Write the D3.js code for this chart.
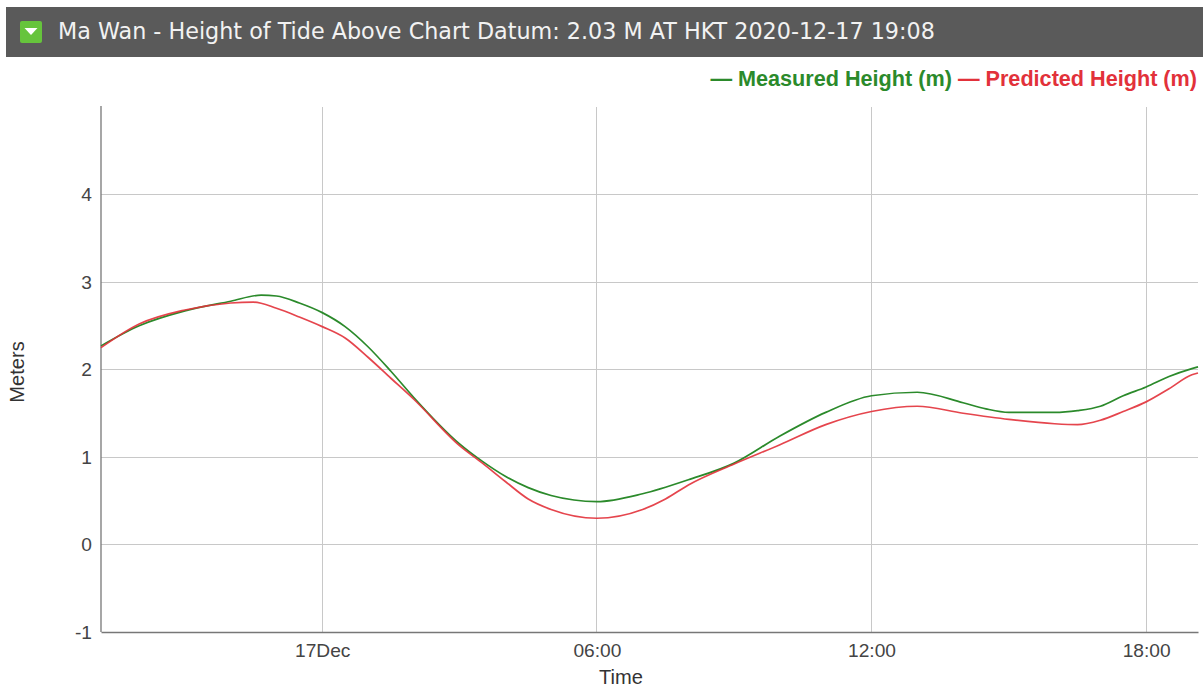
<!DOCTYPE html>
<html><head><meta charset="utf-8">
<script src="https://cdn.jsdelivr.net/npm/d3@7"></script>
<style>body{margin:0;background:#fff;}svg{display:block;}</style>
</head><body>
<svg id="c" width="1203" height="696"></svg>
<script>
const titleText = "Ma Wan - Height of Tide Above Chart Datum: 2.03 M AT HKT 2020-12-17 19:08";
const seriesNames = ["Measured Height (m)", "Predicted Height (m)"];
const yTicks = [-1, 0, 1, 2, 3, 4];
const yLabel = "Meters";
const xLabel = "Time";
const timeStart = "2020-12-16 19:10";
const timeEnd = "2020-12-17 19:08";

const measuredTimes = ["2020-12-16 19:10","2020-12-16 20:00","2020-12-16 21:00","2020-12-16 22:00","2020-12-16 22:40","2020-12-16 23:00","2020-12-16 23:30",
 "2020-12-17 00:00","2020-12-17 00:30","2020-12-17 01:00","2020-12-17 01:30","2020-12-17 02:00","2020-12-17 03:00","2020-12-17 03:30","2020-12-17 04:00","2020-12-17 04:30","2020-12-17 05:00","2020-12-17 06:00","2020-12-17 07:00","2020-12-17 08:00","2020-12-17 09:00","2020-12-17 10:00","2020-12-17 11:00","2020-12-17 12:00","2020-12-17 13:00","2020-12-17 14:00","2020-12-17 14:30","2020-12-17 15:00","2020-12-17 16:00","2020-12-17 16:30","2020-12-17 17:00","2020-12-17 17:30","2020-12-17 18:00","2020-12-17 18:30","2020-12-17 19:00","2020-12-17 19:08"];
const measuredValues = [2.27,2.50,2.67,2.78,2.85,2.84,2.76,
 2.65,2.49,2.26,1.98,1.68,1.15,0.95,0.78,0.65,0.56,0.49,0.58,0.74,0.93,1.24,1.51,1.70,1.74,1.62,1.55,1.51,1.51,1.53,1.58,1.70,1.80,1.92,2.01,2.03];

const predictedTimes = ["2020-12-16 19:10","2020-12-16 20:00","2020-12-16 21:00","2020-12-16 22:00","2020-12-16 22:30","2020-12-16 23:00","2020-12-16 23:30",
 "2020-12-17 00:00","2020-12-17 00:30","2020-12-17 01:00","2020-12-17 01:30","2020-12-17 02:00","2020-12-17 03:00","2020-12-17 03:30","2020-12-17 04:00","2020-12-17 04:30","2020-12-17 05:00","2020-12-17 06:00","2020-12-17 07:00","2020-12-17 07:30","2020-12-17 08:00","2020-12-17 09:00","2020-12-17 10:00","2020-12-17 11:00","2020-12-17 12:00","2020-12-17 13:00","2020-12-17 14:00","2020-12-17 15:00","2020-12-17 16:00","2020-12-17 16:30","2020-12-17 17:00","2020-12-17 17:30","2020-12-17 18:00","2020-12-17 18:30","2020-12-17 19:00","2020-12-17 19:08"];
const predictedValues = [2.25,2.52,2.68,2.76,2.77,2.70,2.60,
 2.49,2.36,2.14,1.90,1.66,1.13,0.93,0.72,0.52,0.40,0.30,0.40,0.52,0.68,0.92,1.14,1.37,1.52,1.58,1.50,1.43,1.38,1.37,1.42,1.52,1.63,1.78,1.94,1.96];

const parse = d3.timeParse("%Y-%m-%d %H:%M");
const svg = d3.select("#c");
const W = 1203, H = 696;
const m = {left:101, right:1198, top:107, bottom:632};
const SANS = "'Liberation Sans', Arial, sans-serif";

function fitFont(sel, base, target) {
  sel.style("font-size", base + "px");
  const w = sel.node().getComputedTextLength();
  return base * target / w;
}

// header
svg.append("rect").attr("x",6).attr("y",7).attr("width",W-6).attr("height",50).attr("fill","#5a5a5a");
svg.append("rect").attr("x",20).attr("y",21).attr("width",22).attr("height",22).attr("rx",2).attr("fill","#66c43c");
svg.append("path").attr("d","M24.5,28 L37.5,28 L31,35 Z").attr("fill","#fff");
const tt = svg.append("text").attr("x",58).attr("y",39).attr("fill","#f2f2f2")
  .style("font-family","'DejaVu Sans', Verdana, sans-serif").text(titleText);
tt.style("font-size", fitFont(tt, 16, 877).toFixed(2)+"px");

const x = d3.scaleTime().domain([parse(timeStart), parse(timeEnd)]).range([m.left, m.right]);
const y = d3.scaleLinear().domain([-1, 5]).range([m.bottom, m.top]);

// grid
const g = svg.append("g");
g.selectAll(".hg").data(yTicks.filter(v=>v!==-1)).enter().append("line")
  .attr("x1",m.left).attr("x2",m.right).attr("y1",d=>y(d)).attr("y2",d=>y(d))
  .attr("stroke","#c8c8c8").attr("stroke-width",1).attr("shape-rendering","crispEdges");
const xt = x.ticks(d3.timeHour.every(6));
g.selectAll(".vg").data(xt).enter().append("line")
  .attr("x1",d=>x(d)).attr("x2",d=>x(d)).attr("y1",m.top).attr("y2",m.bottom)
  .attr("stroke","#c8c8c8").attr("stroke-width",1).attr("shape-rendering","crispEdges");

const probe = svg.append("text").style("font-family",SANS).text("06:00");
const tickSize = fitFont(probe, 16, 48);
probe.remove();
const probe2 = svg.append("text").style("font-family",SANS).text(xLabel);
const titleSize = fitFont(probe2, 16, 44);
probe2.remove();

// axes
const fmt = d => (d.getHours()===0 ? d3.timeFormat("%d%b")(d) : d3.timeFormat("%H:%M")(d));
const xa = svg.append("g").attr("transform",`translate(0,${m.bottom})`)
  .call(d3.axisBottom(x).tickValues(xt).tickFormat(fmt).tickSize(0).tickPadding(11));
const ya = svg.append("g").attr("transform",`translate(${m.left},0)`)
  .call(d3.axisLeft(y).tickValues(yTicks).tickFormat(d=>String(d)).tickSize(0).tickPadding(9));
[xa,ya].forEach(a=>{
  a.attr("font-size", null).attr("font-family", null);
  a.select(".domain").attr("stroke","#777").attr("stroke-width",1.3);
  a.selectAll("text").attr("fill","#444").style("font-family",SANS).style("font-size",tickSize.toFixed(2)+"px");
});
ya.select(".domain").attr("d",`M0,${m.top-1}V${m.bottom}`);

svg.append("text").attr("transform","translate(24,372) rotate(-90)").attr("text-anchor","middle")
  .attr("fill","#333").style("font-family",SANS).style("font-size",titleSize.toFixed(2)+"px").text(yLabel);
svg.append("text").attr("x",621).attr("y",684).attr("text-anchor","middle")
  .attr("fill","#333").style("font-family",SANS).style("font-size",titleSize.toFixed(2)+"px").text(xLabel);

// lines
const colors = ["#2b8a2b","#e2313a"];
const line = d3.line().x(d=>x(d[0])).y(d=>y(d[1])).curve(d3.curveMonotoneX);
const measured = measuredTimes.map((t,i)=>[parse(t), measuredValues[i]]);
const predicted = predictedTimes.map((t,i)=>[parse(t), predictedValues[i]]);
svg.append("path").datum(measured).attr("d",line).attr("fill","none").attr("stroke",colors[0]).attr("stroke-width",1.7);
svg.append("path").datum(predicted).attr("d",line).attr("fill","none").attr("stroke",colors[1]).attr("stroke-width",1.7).attr("stroke-opacity",0.9);

// legend (right aligned)
const lg = svg.append("text").attr("y",86).attr("x",1197).attr("text-anchor","end")
  .style("font-family","'Liberation Sans Narrow','Liberation Sans', Arial, sans-serif").style("font-weight","bold");
seriesNames.forEach((n,i)=>{
  lg.append("tspan").attr("fill",colors[i]).text((i? " ":"") + "— " + n);
});
lg.style("font-size", fitFont(lg, 16, 487).toFixed(2)+"px");
</script>
</body></html>
